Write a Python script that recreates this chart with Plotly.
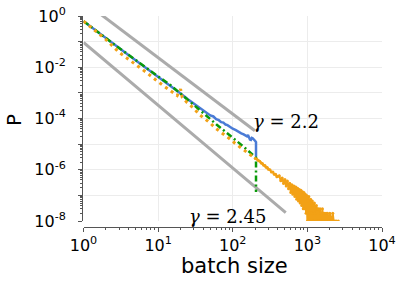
import plotly.graph_objects as go

# ---------------- data ----------------
blue_x = [1, 1.5, 2, 3, 4, 5, 7, 10, 15, 20, 25, 30, 35, 40, 45, 50, 55, 60, 65, 70,
          75, 80, 85, 90, 95, 100, 110, 120, 130, 140, 150, 155, 160, 165, 170, 175,
          180, 185, 190, 195, 200, 205, 205]
blue_y = [0.63, 0.25, 0.135, 0.056, 0.030, 0.0186, 0.0091, 0.0044, 1.86e-3, 9.5e-4,
          5.6e-4, 3.8e-4, 2.6e-4, 2.0e-4, 1.6e-4, 1.32e-4, 1.2e-4, 9.5e-5, 8.6e-5, 7.2e-5,
          6.9e-5, 5.8e-5, 5.5e-5, 4.8e-5, 4.5e-5, 4.0e-5, 3.5e-5, 2.95e-5, 2.65e-5, 2.4e-5,
          2.2e-5, 2.0e-5, 2.3e-5, 1.8e-5, 1.5e-5, 1.45e-5, 1.75e-5, 1.7e-5, 1.6e-5, 1.5e-5,
          1.32e-5, 1.2e-5, 3.2e-6]

green_x = [1, 1.5, 2, 3, 4, 5, 7, 10, 15, 20, 30, 40, 50, 60, 70, 80, 90, 100, 110, 120,
           130, 140, 150, 160, 170, 180, 190, 200, 205, 205]
green_y = [0.63, 0.25, 0.135, 0.056, 0.031, 0.019, 0.0093, 0.0044, 1.9e-3, 9.1e-4,
           3.3e-4, 1.58e-4, 9.5e-5, 6.0e-5, 4.2e-5, 3.0e-5, 2.3e-5, 1.74e-5, 1.38e-5, 1.12e-5,
           9.5e-6, 7.9e-6, 6.6e-6, 5.6e-6, 4.8e-6, 4.2e-6, 3.55e-6, 3.2e-6, 3.0e-6, 1.35e-7]

orange_x = [1, 1.5, 2, 3, 4, 5, 7, 10, 15, 18, 20, 21, 24, 30, 36, 40, 50, 58, 70, 80,
            100, 107, 126, 158, 200]
orange_y = [0.63, 0.24, 0.12, 0.038, 0.021, 0.0132, 0.0062, 0.0027, 1.15e-3, 7.8e-4,
            1.4e-3, 6.8e-4, 4.4e-4, 2.5e-4, 1.4e-4, 1.1e-4, 6.6e-5, 4.3e-5, 2.9e-5, 2.2e-5,
            1.32e-5, 1.08e-5, 7.6e-6, 4.7e-6, 2.75e-6]

tail_x = [200, 210, 220, 230, 240, 250, 260, 270, 280, 290, 300, 315, 330, 345, 360, 375,
          390, 405, 420, 440, 460, 480, 500, 520, 540, 560, 580, 600, 620, 640, 660, 680,
          700, 720, 740, 760, 780, 800, 820, 840, 860, 880, 900, 920, 940, 960, 980, 1000,
          1015, 1030, 1045, 1060, 1075, 1090, 1105, 1120, 1135, 1150, 1165, 1180, 1200, 1220,
          1240, 1260, 1280, 1300, 1320, 1340, 1360, 1380, 1400, 1420, 1440, 1460, 1480, 1500,
          1530, 1560, 1590, 1620, 1650, 1680, 1710, 1740, 1780, 1820, 1860, 1900, 1950, 2000,
          2050, 2100, 2190, 2250, 2350, 2450, 2600]
tail_y = [2.75e-6, 2.6e-6, 2.3e-6, 2.15e-6, 1.85e-6, 1.75e-6, 1.5e-6, 1.45e-6, 1.25e-6, 1.22e-6,
          1.05e-6, 1.0e-6, 8.2e-7, 8.2e-7, 6.6e-7, 6.7e-7, 5.3e-7, 5.6e-7, 5.8e-7, 3.7e-7,
          4.8e-7, 2.9e-7, 4.2e-7, 2.3e-7, 3.6e-7, 1.8e-7, 3.0e-7, 1.3e-7, 2.6e-7, 1.1e-7,
          2.3e-7, 9.0e-8, 2.1e-7, 7.0e-8, 1.9e-7, 6.0e-8, 1.7e-7, 5.0e-8, 1.6e-7, 4.0e-8,
          1.4e-7, 3.0e-8, 1.3e-7, 3.0e-8, 1.1e-7, 2.0e-8, 1.0e-7, 1.0e-8,
          6e-8, 2e-8, 9e-8, 1e-8, 5e-8, 2e-8, 7e-8, 1e-8, 4e-8, 2e-8, 6e-8, 1e-8, 4e-8, 1e-8,
          5e-8, 2e-8, 3e-8, 1e-8, 4e-8, 1e-8, 3e-8, 1e-8, 3e-8, 1e-8, 2e-8, 1e-8, 3e-8, 1e-8,
          2e-8, 1e-8, 3e-8, 1e-8, 2e-8, 1e-8, 2e-8, 1e-8, 2e-8, 1e-8, 2e-8, 1e-8, 1e-8, 2e-8,
          1e-8, 1e-8, 2e-8, 1e-8, 1e-8, 1e-8, 1e-8]

# power-law guide lines  P = C * s^-gamma
guide_gamma = [2.2, 2.45]
guide_c = [3.75, 0.093]
guide_xmin = [1, 1]
guide_xmax = [198, 513]
guide_labels = ["<i>γ</i> = 2.2", "<i>γ</i> = 2.45"]

x_tick_vals = [1, 10, 100, 1000, 10000]
x_tick_text = ["10<sup>0</sup>", "10<sup>1</sup>", "10<sup>2</sup>", "10<sup>3</sup>", "10<sup>4</sup>"]
y_tick_vals = [1e-8, 1e-7, 1e-6, 1e-5, 1e-4, 1e-3, 1e-2, 1e-1, 1]
y_tick_text = ["10<sup>-8</sup>", "", "10<sup>-6</sup>", "", "10<sup>-4</sup>", "",
               "10<sup>-2</sup>", "", "10<sup>0</sup>"]

# ---------------- figure ----------------
BLUE = "#4a7bd6"
GREEN = "#0a9a0a"
ORANGE = "#f2a116"
GRAY = "#ababab"
AX = "#555555"

fig = go.Figure()

for g, c, x0, x1 in zip(guide_gamma, guide_c, guide_xmin, guide_xmax):
    fig.add_trace(go.Scatter(x=[x0, x1], y=[c * x0 ** (-g), c * x1 ** (-g)], mode="lines",
                             line=dict(color=GRAY, width=3), showlegend=False,
                             hoverinfo="skip"))

fig.add_trace(go.Scatter(x=blue_x, y=blue_y, mode="lines",
                         line=dict(color=BLUE, width=2.5), showlegend=False))
fig.add_trace(go.Scatter(x=green_x, y=green_y, mode="lines",
                         line=dict(color=GREEN, width=2.5, dash="6px,3px,2px,3px"),
                         showlegend=False))
fig.add_trace(go.Scatter(x=orange_x, y=orange_y, mode="lines",
                         line=dict(color=ORANGE, width=3, dash="3px,4px"),
                         showlegend=False))
fig.add_trace(go.Scatter(x=tail_x, y=tail_y, mode="lines+markers",
                         line=dict(color=ORANGE, width=2),
                         marker=dict(color=ORANGE, size=3),
                         showlegend=False))

minor_vals_x = [k * 10 ** e for e in range(0, 4) for k in range(2, 10)]
minor_vals_y = [k * 10.0 ** e for e in range(-8, 0) for k in range(2, 10)]

W, H = 407, 285
ML, MR, MT, MB = 82, 25, 16, 58
pw = W - ML - MR
ph = H - MT - MB

fig.update_layout(
    width=W, height=H,
    margin=dict(l=ML, r=MR, t=MT, b=MB, autoexpand=False),
    paper_bgcolor="white", plot_bgcolor="white",
    font=dict(family="DejaVu Sans", color="black"),
    xaxis=dict(type="log", range=[0, 4], domain=[1.5 / pw, 1],
               anchor="free", position=0, automargin=False,
               tickmode="array", tickvals=x_tick_vals, ticktext=x_tick_text,
               tickfont=dict(size=16), ticklabelstandoff=0, ticklabeloverflow="allow",
               ticks="outside", ticklen=4, tickcolor=AX, tickwidth=1,
               showline=True, linecolor=AX, linewidth=1,
               showgrid=True, gridcolor="#ececec", gridwidth=1, zeroline=False,
               minor=dict(tickvals=minor_vals_x, ticks="outside", ticklen=2,
                          tickcolor=AX, showgrid=False)),
    yaxis=dict(type="log", range=[-8, 0], domain=[6 / ph, 1],
               anchor="free", position=0, automargin=False,
               tickmode="array", tickvals=y_tick_vals, ticktext=y_tick_text,
               tickfont=dict(size=16), ticklabelstandoff=9, ticklabeloverflow="allow",
               ticks="outside", ticklen=4, tickcolor=AX, tickwidth=1,
               showline=True, linecolor=AX, linewidth=1,
               showgrid=True, gridcolor="#ececec", gridwidth=1, zeroline=False,
               minor=dict(tickvals=minor_vals_y, ticks="outside", ticklen=2,
                          tickcolor=AX, showgrid=False)),
    annotations=[
        dict(x=2.24, y=-4.10, xref="x", yref="y", text=guide_labels[0], showarrow=False,
             xanchor="left", yanchor="middle",
             font=dict(family="DejaVu Serif", size=18, color="black")),
        dict(x=1.39, y=-7.84, xref="x", yref="y", text=guide_labels[1], showarrow=False,
             xanchor="left", yanchor="middle",
             font=dict(family="DejaVu Serif", size=18, color="black")),
        dict(x=(234 - ML) / pw, y=(H - MB - 266) / ph, xref="paper", yref="paper",
             text="batch size", showarrow=False, xanchor="center", yanchor="middle",
             font=dict(size=21)),
        dict(x=(14 - ML) / pw, y=(H - MB - 120) / ph, xref="paper", yref="paper",
             text="P", showarrow=False, xanchor="center", yanchor="middle",
             textangle=-90, font=dict(size=20)),
    ],
)

fig.write_html("out.html", config={"displayModeBar": False},
               post_script="document.body.style.margin='0';document.body.style.padding='0';")
